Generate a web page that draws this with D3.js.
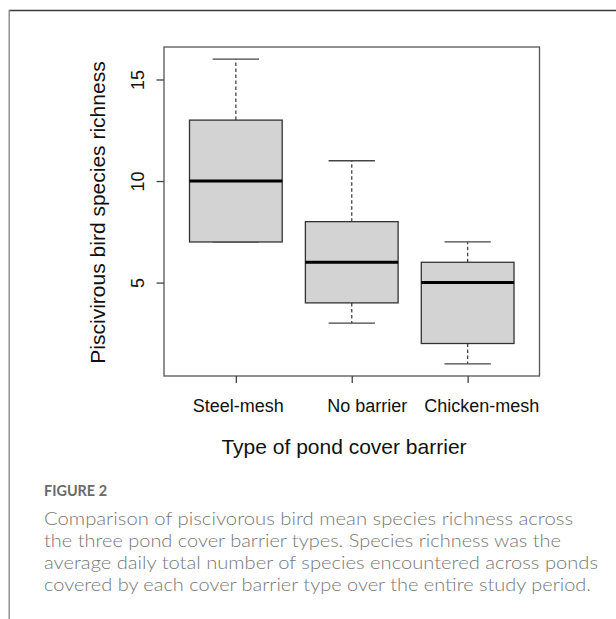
<!DOCTYPE html>
<html>
<head>
<meta charset="utf-8">
<script src="https://cdn.jsdelivr.net/npm/d3@7"></script>
<style>
  html, body { margin: 0; padding: 0; background: #fff; }
  svg { display: block; }
</style>
</head>
<body>
<svg id="chart" width="616" height="619"></svg>
<script>
// ---- data ----
const categories = ["Steel-mesh", "No barrier", "Chicken-mesh"];
const whiskerLow  = [7, 3, 1];
const q1          = [7, 4, 2];
const median      = [10, 6, 5];
const q3          = [13, 8, 6];
const whiskerHigh = [16, 11, 7];
const yTicks = [5, 10, 15];
const yTitle = "Piscivirous bird species richness";
const xTitle = "Type of pond cover barrier";
const figLabel = "FIGURE 2";
const captionLines = [
  "Comparison of piscivorous bird mean species richness across",
  "the three pond cover barrier types. Species richness was the",
  "average daily total number of species encountered across ponds",
  "covered by each cover barrier type over the entire study period."
];

// ---- layout ----
const svg = d3.select("#chart");
const plot = { left: 164, right: 539.5, top: 47, bottom: 376 };
const font = "'Liberation Sans', Arial, sans-serif";

svg.append("rect").attr("width", 616).attr("height", 619).attr("fill", "#fff");

// outer frame (partial)
svg.append("line").attr("x1", 9).attr("x2", 616).attr("y1", 10.5).attr("y2", 10.5)
  .attr("stroke", "#3a3a3a").attr("stroke-width", 1.3);
svg.append("line").attr("x1", 9.2).attr("x2", 9.2).attr("y1", 10).attr("y2", 619)
  .attr("stroke", "#8a8a8a").attr("stroke-width", 1.4);

const n = categories.length;
const x = d3.scaleLinear().domain([0.38, n + 0.62]).range([plot.left, plot.right]);
const y = d3.scaleLinear().domain([0.4, 16.6]).range([plot.bottom, plot.top]);
const unit = x(2) - x(1);
const boxHalf = 0.4 * unit;
const capHalf = 0.2 * unit;

const g = svg.append("g");
categories.forEach((c, i) => {
  const cx = x(i + 1);
  // whiskers (dashed)
  g.append("line").attr("x1", cx).attr("x2", cx).attr("y1", y(q3[i])).attr("y2", y(whiskerHigh[i]))
    .attr("stroke", "#444").attr("stroke-width", 1.3).attr("stroke-dasharray", "3.5,2.5");
  g.append("line").attr("x1", cx).attr("x2", cx).attr("y1", y(q1[i])).attr("y2", y(whiskerLow[i]))
    .attr("stroke", "#444").attr("stroke-width", 1.3).attr("stroke-dasharray", "3.5,2.5");
  // caps
  g.append("line").attr("x1", cx - capHalf).attr("x2", cx + capHalf)
    .attr("y1", y(whiskerHigh[i])).attr("y2", y(whiskerHigh[i]))
    .attr("stroke", "#444").attr("stroke-width", 1.3);
  g.append("line").attr("x1", cx - capHalf).attr("x2", cx + capHalf)
    .attr("y1", y(whiskerLow[i])).attr("y2", y(whiskerLow[i]))
    .attr("stroke", "#444").attr("stroke-width", 1.3);
  // box
  g.append("rect").attr("x", cx - boxHalf).attr("width", 2 * boxHalf)
    .attr("y", y(q3[i])).attr("height", y(q1[i]) - y(q3[i]))
    .attr("fill", "#d3d3d3").attr("stroke", "#333").attr("stroke-width", 1.3);
  // median
  g.append("line").attr("x1", cx - boxHalf).attr("x2", cx + boxHalf)
    .attr("y1", y(median[i])).attr("y2", y(median[i]))
    .attr("stroke", "#000").attr("stroke-width", 3);
});

// plot frame
svg.append("rect").attr("x", plot.left).attr("y", plot.top)
  .attr("width", plot.right - plot.left).attr("height", plot.bottom - plot.top)
  .attr("fill", "none").attr("stroke", "#555").attr("stroke-width", 1.3);

// y axis
const yAxis = svg.append("g").attr("transform", `translate(${plot.left},0)`)
  .call(d3.axisLeft(y).tickValues(yTicks).tickSize(7.5).tickFormat(d3.format("d")));
yAxis.select(".domain").remove();
yAxis.selectAll(".tick line").attr("stroke", "#444").attr("stroke-width", 1.3);
yAxis.selectAll(".tick text")
  .attr("x", null).attr("dy", null)
  .attr("text-anchor", "middle")
  .attr("transform", "translate(-20.5,0) rotate(-90)")
  .attr("font-family", font).attr("font-size", 18).attr("fill", "#111");

// x axis
const xAxis = svg.append("g").attr("transform", `translate(0,${plot.bottom})`)
  .call(d3.axisBottom(x).tickValues(d3.range(1, n + 1)).tickSize(7).tickFormat(d => categories[d - 1]));
xAxis.select(".domain").remove();
xAxis.selectAll(".tick line").attr("stroke", "#444").attr("stroke-width", 1.3);
const labelShift = [2, 15, 13.5];
xAxis.selectAll(".tick text")
  .attr("y", 36).attr("dy", null)
  .attr("x", (d, i) => labelShift[i])
  .attr("font-family", font).attr("font-size", 18).attr("fill", "#111");

// axis titles
svg.append("text").attr("transform", `translate(105,212.5) rotate(-90)`)
  .attr("text-anchor", "middle").attr("font-family", font).attr("font-size", 21)
  .attr("fill", "#111").text(yTitle);
svg.append("text").attr("x", 344).attr("y", 454)
  .attr("text-anchor", "middle").attr("font-family", font).attr("font-size", 21)
  .attr("fill", "#111").text(xTitle);

// caption
const capFont = "Lato, 'Open Sans', sans-serif";
svg.append("text").attr("x", 44).attr("y", 496)
  .attr("font-family", capFont).attr("font-size", 14.5).attr("font-weight", 700)
  .attr("fill", "#6a6a6a").attr("textLength", 63).attr("lengthAdjust", "spacingAndGlyphs")
  .text(figLabel);
const capWidths = [529, 517, 554, 547];
const capBase = [525, 547, 569, 591];
captionLines.forEach((t, i) => {
  svg.append("text").attr("x", 44).attr("y", capBase[i])
    .attr("font-family", capFont).attr("font-size", 18).attr("font-weight", 300)
    .attr("fill", "#777")
    .attr("textLength", capWidths[i]).attr("lengthAdjust", "spacingAndGlyphs")
    .text(t);
});
</script>
</body>
</html>
